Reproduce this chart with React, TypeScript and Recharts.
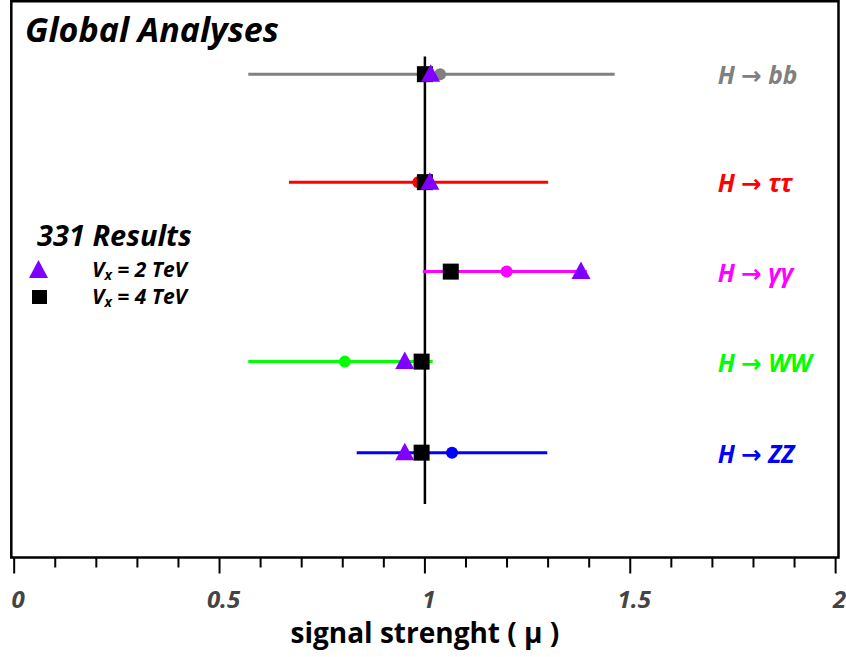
import React from 'react';
import {
  ComposedChart,
  XAxis,
  YAxis,
  Scatter,
  ReferenceLine,
  ReferenceArea,
  Legend,
} from 'recharts';

// ---------- data ----------
const channels = ['H → bb', 'H → ττ', 'H → γγ', 'H → WW', 'H → ZZ'];
const rowPos = [5.214, 4.049, 3.084, 2.113, 1.131];
const errLow = [0.57, 0.669, 0.995, 0.57, 0.834];
const errHigh = [1.462, 1.3, 1.394, 1.019, 1.298];
const central = [1.037, 0.984, 1.199, 0.805, 1.066];
const mu2TeV = [1.014, 1.012, 1.38, 0.951, 0.951];
const mu4TeV = [1.0, 1.0, 1.063, 0.992, 0.992];
const xTicks = [0, 0.1, 0.2, 0.3, 0.4, 0.5, 0.6, 0.7, 0.8, 0.9, 1, 1.1, 1.2, 1.3, 1.4, 1.5, 1.6, 1.7, 1.8, 1.9, 2];
const majorTicks = [0, 0.5, 1, 1.5, 2];
const legendTitle = '331 Results';
const legendLabels = ['2 TeV', '4 TeV'];
const title = 'Global Analyses';
const xLabel = 'signal strenght ( μ )';
const smLine = 1;
const smLineRange = [0.577, 5.404];
const labelX = 1.713;

// ---------- styles ----------
const channelColors = ['#808080', '#ff0000', '#ff00ff', '#00ff00', '#0000ff'];
const TRI = '#8000ff';
const FONT = '"Open Sans", "DejaVu Sans", sans-serif';
const X_DOMAIN: [number, number] = [-0.007, 2.007];
const Y_DOMAIN: [number, number] = [0, 6];

const centralData = central.map((v, i) => ({ x: v, y: rowPos[i], c: channelColors[i] }));
const tri2Data = mu2TeV.map((v, i) => ({ x: v, y: rowPos[i] }));
const sq4Data = mu4TeV.map((v, i) => ({ x: v, y: rowPos[i] }));
const labelData = channels.map((n, i) => ({ x: labelX, y: rowPos[i], name: n, c: channelColors[i] }));

const Circle = (p: any) => <circle cx={p.cx} cy={p.cy} r={6} fill={p.payload.c} />;
const Square = (p: any) => <rect x={p.cx - 8} y={p.cy - 8} width={16} height={16} fill="#000" />;
const Triangle = (p: any) => (
  <polygon
    points={`${p.cx},${p.cy - 10} ${p.cx - 9.5},${p.cy + 7.5} ${p.cx + 9.5},${p.cy + 7.5}`}
    fill={TRI}
  />
);
const ChannelLabel = (p: any) => (
  <text
    x={p.cx}
    y={p.cy + 10}
    fill={p.payload.c}
    fontFamily={FONT}
    fontSize={24.5}
    fontWeight={700}
    fontStyle="italic"
    textAnchor="start"
  >
    {p.payload.name}
  </text>
);

const Tick = (p: any) => {
  const v = p.payload.value;
  const major = majorTicks.some((m) => Math.abs(m - v) < 1e-6);
  return (
    <g>
      <line x1={p.x} x2={p.x} y1={p.y} y2={p.y + (major ? 16 : 10)} stroke="#000" strokeWidth={2} />
      {major && (
        <text
          x={p.x + 4}
          y={p.y + 50}
          textAnchor="middle"
          fill="#444"
          fontFamily={FONT}
          fontSize={24}
          fontWeight={700}
          fontStyle="italic"
        >
          {String(v)}
        </text>
      )}
    </g>
  );
};

const AxisLabel = (p: any) => {
  const vb = p.viewBox || {};
  return (
    <text
      x={vb.x + vb.width / 2}
      y={vb.y + 85}
      textAnchor="middle"
      fill="#000"
      fontFamily={FONT}
      fontSize={28}
      fontWeight={700}
    >
      {xLabel}
    </text>
  );
};

const LegendBox = () => (
  <svg width={220} height={100} style={{ display: 'block' }}>
    <text x={37} y={34} fontFamily={FONT} fontSize={29} fontWeight={700} fontStyle="italic" fill="#000">
      {legendTitle}
    </text>
    <polygon points="38.5,48 29,66 48,66" fill={TRI} />
    <rect x={32} y={78} width={15} height={14} fill="#000" />
    {legendLabels.map((l, i) => (
      <text
        key={l}
        x={92}
        y={65 + i * 27}
        fontFamily={FONT}
        fontSize={21}
        fontWeight={700}
        fontStyle="italic"
        fill="#000"
      >
        V<tspan fontSize={14} dy={3}>x</tspan>
        <tspan dy={-3}>{` = ${l}`}</tspan>
      </text>
    ))}
  </svg>
);

export default function App() {
  return (
    <div style={{ position: 'absolute', left: 0, top: 0, width: 846, height: 657, background: '#fff' }}>
      <ComposedChart
        width={846}
        height={657}
        margin={{ top: 1.3, right: 7.5, bottom: 9.5, left: 11.3 }}
      >
        <XAxis
          type="number"
          dataKey="x"
          domain={X_DOMAIN}
          ticks={xTicks}
          allowDataOverflow
          height={90}
          tickSize={0}
          tickMargin={0}
          tickLine={false}
          axisLine={false}
          interval={0}
          tick={<Tick />}
          label={<AxisLabel />}
        />
        <YAxis type="number" dataKey="y" domain={Y_DOMAIN} hide width={0} allowDataOverflow />
        <ReferenceArea
          x1={X_DOMAIN[0]}
          x2={X_DOMAIN[1]}
          y1={Y_DOMAIN[0]}
          y2={Y_DOMAIN[1]}
          fill="none"
          fillOpacity={0}
          stroke="#000"
          strokeWidth={2.5}
          ifOverflow="visible"
        />
        <ReferenceLine
          segment={[
            { x: smLine, y: smLineRange[0] },
            { x: smLine, y: smLineRange[1] },
          ]}
          stroke="#000"
          strokeWidth={2.5}
          ifOverflow="visible"
        />
        {channels.map((c, i) => (
          <ReferenceLine
            key={c}
            segment={[
              { x: errLow[i], y: rowPos[i] },
              { x: errHigh[i], y: rowPos[i] },
            ]}
            stroke={channelColors[i]}
            strokeWidth={3}
            ifOverflow="visible"
          />
        ))}
        <Scatter name="central" data={centralData} shape={Circle} isAnimationActive={false} legendType="none" />
        <Scatter name="4 TeV" data={sq4Data} shape={Square} isAnimationActive={false} legendType="square" />
        <Scatter name="2 TeV" data={tri2Data} shape={Triangle} isAnimationActive={false} legendType="triangle" />
        <Scatter name="labels" data={labelData} shape={ChannelLabel} isAnimationActive={false} legendType="none" />
        <Legend
          layout="vertical"
          align="center"
          verticalAlign="middle"
          content={<LegendBox />}
          wrapperStyle={{ left: 0, top: 212, width: 220, height: 100 }}
        />
        <text
          x={25}
          y={42}
          fontFamily={FONT}
          fontSize={34}
          fontWeight={700}
          fontStyle="italic"
          fill="#000"
        >
          {title}
        </text>
      </ComposedChart>
    </div>
  );
}
